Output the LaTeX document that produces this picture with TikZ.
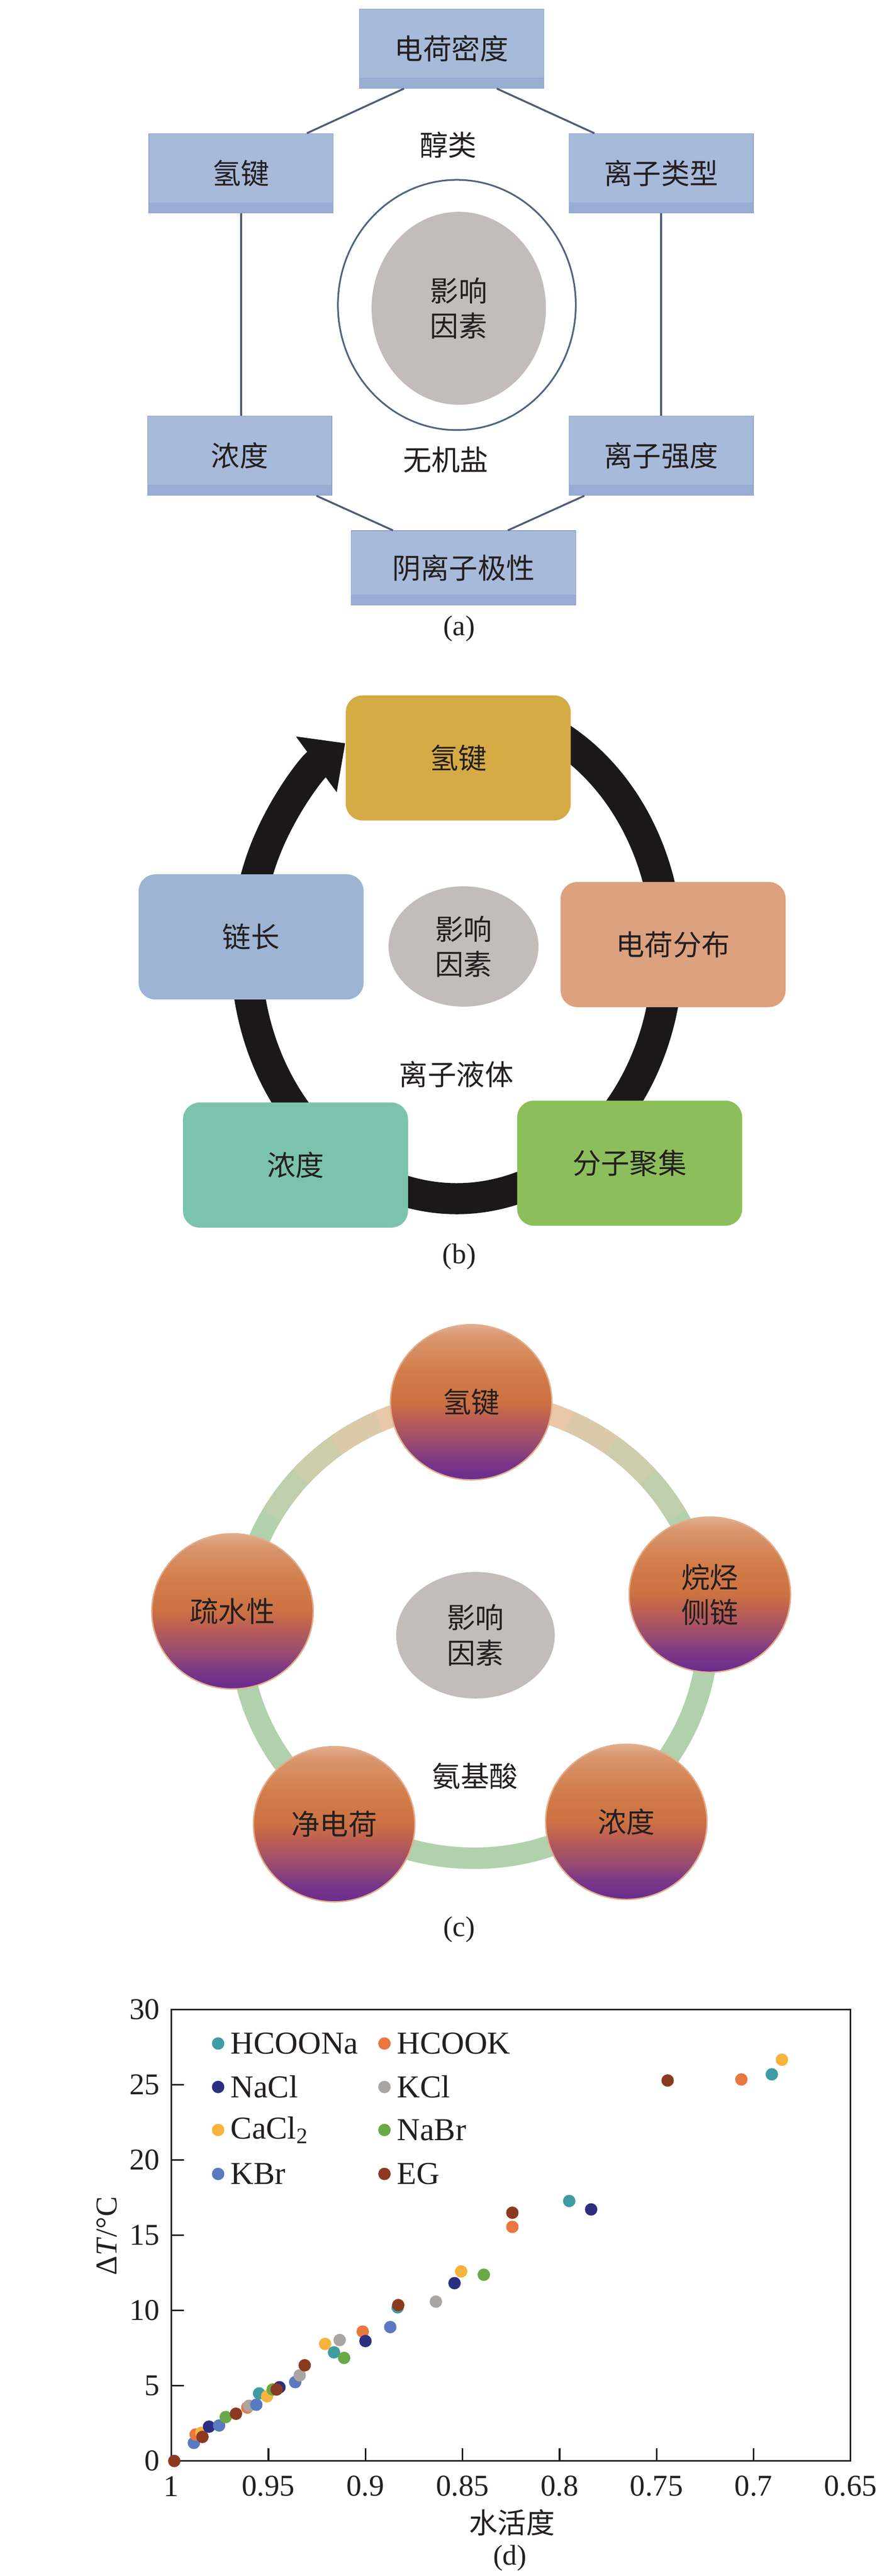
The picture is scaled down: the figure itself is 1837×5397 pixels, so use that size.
\documentclass[tikz,border=0pt]{standalone}
\usepackage{fontspec}
\setmainfont{Liberation Serif}
\newfontfamily\cjk{Noto Sans CJK SC}
\usepackage{xcolor}
\usetikzlibrary{positioning,shapes.geometric,arrows.meta}

\definecolor{inkgray}{HTML}{231F20}
\definecolor{boxblue}{HTML}{A8BAD9}
\definecolor{boxband}{HTML}{97ADD3}
\definecolor{boxedge}{HTML}{8EA4CC}
\definecolor{linkgray}{HTML}{4E5C72}
\definecolor{shelledge}{HTML}{50647F}
\definecolor{factorgray}{HTML}{C3BCBB}
\definecolor{hbgold}{HTML}{D5AB45}
\definecolor{chainblue}{HTML}{9DB4D2}
\definecolor{chargeorange}{HTML}{DCA17E}
\definecolor{concteal}{HTML}{7CC3AD}
\definecolor{agggreen}{HTML}{8CBF5B}
\definecolor{ringblack}{HTML}{1A1818}
\definecolor{ringgreen}{HTML}{B1D1AD}
\definecolor{ringpeach}{HTML}{E9C8A9}
\definecolor{ballbot}{HTML}{6A2C8E}
\definecolor{ballpurple}{HTML}{7B3787}
\definecolor{ballmauve}{HTML}{9A4C70}
\definecolor{ballred}{HTML}{B85C57}
\definecolor{ballorange}{HTML}{CD7142}
\definecolor{ballmid}{HTML}{D27D4B}
\definecolor{balltop}{HTML}{D9966E}
\definecolor{ballrim}{HTML}{E2AE8D}
\definecolor{hcoona}{HTML}{3F9CA3}
\definecolor{hcook}{HTML}{E9773F}
\definecolor{nacl}{HTML}{2C2F80}
\definecolor{kcl}{HTML}{A9A5A2}
\definecolor{cacl}{HTML}{F6B33D}
\definecolor{nabr}{HTML}{6AA947}
\definecolor{kbr}{HTML}{5A79C1}
\definecolor{eg}{HTML}{8A3B1F}

\pgfdeclareverticalshading{ballshade}{100bp}{color(0bp)=(ballbot); color(25bp)=(ballbot); color(31bp)=(ballpurple); color(37bp)=(ballmauve); color(44bp)=(ballred); color(50bp)=(ballorange); color(60bp)=(ballmid); color(71bp)=(balltop); color(75bp)=(ballrim); color(100bp)=(ballrim)}

\tikzset{
  zh/.style={font=\cjk\fontsize{17}{21}\selectfont, text=inkgray, align=center},
  lbl/.style={font=\fontsize{17}{20}\selectfont, text=inkgray},
  abox/.style={zh, draw=boxedge, fill=boxblue, minimum width=3.86cm, minimum height=1.66cm, inner sep=0pt,
    path picture={\fill[boxband] (path picture bounding box.south west) rectangle ([yshift=0.22cm]path picture bounding box.south east);}},
  link/.style={draw=linkgray, line width=1.1pt},
  bbox/.style={zh, rounded corners=0.35cm, minimum width=4.71cm, minimum height=2.62cm, inner sep=0pt},
  factor/.style={zh, ellipse, fill=factorgray, inner sep=0pt},
  ringb/.style={draw=ringblack, line width=0.65cm, -{Triangle[length=0.75cm, width=1.4cm]}},
  greenring/.style={draw=ringgreen, line width=0.45cm},
  ball/.style={zh, ellipse, shade, shading=ballshade, draw=ballrim, line width=0.8pt, minimum width=3.38cm, minimum height=3.25cm, inner sep=0pt},
  frame/.style={draw=inkgray, line width=1pt},
  ticklab/.style={font=\fontsize{18}{20}\selectfont, text=inkgray, inner sep=0pt},
  legtext/.style={font=\fontsize{19}{21}\selectfont, text=inkgray, inner sep=0pt, anchor=west},
  dot/.style={circle, minimum size=0.26cm, inner sep=0pt}
}

\begin{document}
\begin{tikzpicture}[x=0.01cm, y=0.01cm]
  \fill[white, use as bounding box] (0,0) rectangle (1837,5397);

  % (a)
  \node[ellipse, draw=shelledge, fill=white, line width=1pt, minimum width=4.98cm, minimum height=5.24cm] (shell) at (957,4758) {};
  \node[factor, minimum width=3.65cm, minimum height=4.04cm] (fac1) at (961,4751) {影响\\因素};
  \node[abox] (density) at (946,5295) {电荷密度};
  \node[abox] (hbond) at (505,5034) {氢键};
  \node[abox] (iontype) at (1385,5034) {离子类型};
  \node[abox] (conc) at (502,4442) {浓度};
  \node[abox] (ionstr) at (1385,4442) {离子强度};
  \node[abox, minimum width=4.7cm, minimum height=1.56cm] (anion) at (971,4207) {阴离子极性};
  \node[zh] (alcohol) at (939,5093) {醇类};
  \node[zh] (salt) at (934,4434) {无机盐};
  \node[lbl] (lbla) at (962,4080) {(a)};
  \draw[link] ([xshift=-0.56cm]hbond.north east) -- ([xshift=0.94cm]density.south west);
  \draw[link] ([xshift=-0.99cm]density.south east) -- ([xshift=0.54cm]iontype.north west);
  \draw[link] (hbond.south) -- (hbond.south |- conc.north);
  \draw[link] (iontype.south) -- (iontype.south |- ionstr.north);
  \draw[link] ([xshift=-0.33cm]conc.south east) -- ([xshift=0.88cm]anion.north west);
  \draw[link] ([xshift=0.33cm]ionstr.south west) -- ([xshift=-1.43cm]anion.north east);

  % (b)
  \coordinate (ring2c) at (957,3402);
  \draw[ringb] (ring2c) ++(64:4.41cm and 5.16cm) arc[start angle=64, end angle=-238, x radius=4.41cm, y radius=5.16cm];
  \node[bbox, fill=hbgold] (hb2) at (960,3809) {氢键};
  \node[bbox, fill=chainblue] (chain) at (526,3434) {链长};
  \node[bbox, fill=chargeorange] (charge) at (1410,3418) {电荷分布};
  \node[bbox, fill=concteal] (conc2) at (619,2956) {浓度};
  \node[bbox, fill=agggreen] (agg) at (1319,2960) {分子聚集};
  \node[factor, minimum width=3.14cm, minimum height=2.52cm] (fac2) at (971,3414) {影响\\因素};
  \node[zh] (ionliq) at (956,3146) {离子液体};
  \node[lbl] (lblb) at (962,2764) {(b)};

  % (c)
  \coordinate (ring3c) at (993,1982);
  \draw[greenring] (ring3c) ellipse [x radius=4.9cm, y radius=4.78cm];
  \foreach \a/\b/\m in {30/150/25, 42/138/50, 54/126/75, 66/114/100}
    \draw[greenring, draw=ringpeach!\m!ringgreen] (ring3c) ++(\a:4.9cm and 4.78cm) arc[start angle=\a, end angle=\b, x radius=4.9cm, y radius=4.78cm];
  \node[ball] (hb3) at (987,2459) {氢键};
  \node[ball] (hydro) at (487,2021) {疏水性};
  \node[ball] (alkyl) at (1487,2056) {烷烃\\侧链};
  \node[ball] (netq) at (700,1575) {净电荷};
  \node[ball] (conc3) at (1312,1580) {浓度};
  \node[factor, minimum width=3.32cm, minimum height=2.65cm] (fac3) at (996,1971) {影响\\因素};
  \node[zh] (amino) at (995,1676) {氨基酸};
  \node[lbl] (lblc) at (962,1354) {(c)};

  % (d)
  \begin{scope}[shift={(359,241)}, x=40.629cm, y=0.315cm]
    \draw[frame] (0,0) rectangle (0.35,30);
    \foreach \i in {1,...,6}
      \draw[frame] (\i*0.05,0) -- ++(0,0.83);
    \foreach \j in {5,10,...,25}
      \draw[frame] (0,\j) -- ++(0.0064,0);
    \foreach \lab [count=\i from 0] in {1,0.95,0.9,0.85,0.8,0.75,0.7,0.65}
      \node[ticklab] (xl\i) at (\i*0.05,-1.68) {\lab};
    \foreach \j in {0,5,...,30}
      \node[ticklab, anchor=east] (yl\j) at (-0.00576,\j) {\j};
    \node[ticklab, rotate=90] (ytitle) at (-0.0332,14.95) {Δ\textit{T}/°C};
    \node[zh] (xtitle) at (0.1755,-4.1) {水活度};
    \node[lbl] (lbld) at (0.1745,-6.44) {(d)};
    \foreach \c/\lab/\xx/\yy [count=\k] in {hcoona/HCOONa/0.0241/27.75, hcook/HCOOK/0.1098/27.75,
        nacl/NaCl/0.0241/24.86, kcl/KCl/0.1098/24.86, cacl/{CaCl\textsubscript{2}}/0.0241/22.0,
        nabr/NaBr/0.1098/22.0, kbr/KBr/0.0241/19.08, eg/EG/0.1098/19.08} {
      \node[dot, fill=\c] (m\k) at (\xx,\yy) {};
      \node[legtext, right=0.12cm of m\k] (t\k) {\lab};
    }
    \foreach \aw/\dt/\c in {0.9985/0/eg, 0.9884/1.2/kbr, 0.9875/1.76/hcook, 0.9846/1.87/cacl, 0.984/1.6/eg,
        0.9806/2.28/nacl, 0.9754/2.36/kbr, 0.972/2.92/nabr, 0.9667/3.14/eg, 0.9609/3.55/hcook,
        0.96/3.67/kcl, 0.9562/3.74/kbr, 0.9548/4.49/hcoona, 0.9507/4.3/cacl, 0.9478/4.75/nabr,
        0.9443/4.9/nacl, 0.9458/4.75/eg, 0.9362/5.24/kbr, 0.9339/5.69/kcl, 0.9313/6.36/eg,
        0.9208/7.78/cacl, 0.9162/7.22/hcoona, 0.9133/8.04/kcl, 0.911/6.85/nabr, 0.9014/8.6/hcook,
        0.9/7.97/nacl, 0.8872/8.9/kbr, 0.8834/10.21/hcoona, 0.8831/10.36/eg, 0.8637/10.59/kcl,
        0.8541/11.82/nacl, 0.8507/12.6/cacl, 0.839/12.38/nabr, 0.8243/15.56/hcook, 0.8243/16.5/eg,
        0.795/17.28/hcoona, 0.7837/16.72/nacl, 0.7443/25.29/eg, 0.7063/25.36/hcook,
        0.6906/25.7/hcoona, 0.6854/26.67/cacl}
      \fill[\c] ({1-\aw},\dt) circle[radius=0.13cm];
  \end{scope}
\end{tikzpicture}
\end{document}
